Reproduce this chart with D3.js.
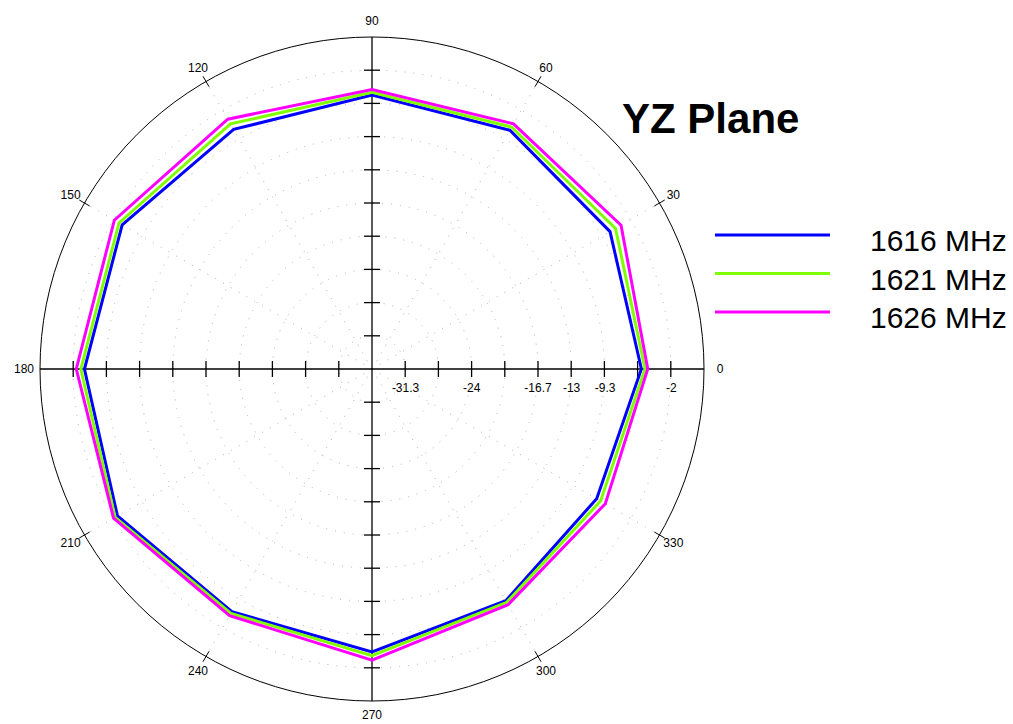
<!DOCTYPE html>
<html lang="en">
<head>
<meta charset="UTF-8">
<title>YZ Plane</title>
<script src="https://d3js.org/d3.v7.min.js"></script>
<style>
  body { margin: 0; background: #fff; }
  text { font-family: "Liberation Sans", Arial, sans-serif; }
</style>
</head>
<body>
<div id="chart"></div>
<script>
  const width = 1013, height = 724;
  const cx = 372, cy = 369, R = 332;

  // angles (deg, counter-clockwise from 0 = east)
  const angles = [0, 30, 60, 90, 120, 150, 180, 210, 240, 270, 300, 330];
  // gain in dB
  const s1616 = [-5.3, -4.7, -4.6, -4.8, -4.5, -3.2, -3.3, -2.6, -4.1, -3.8, -5.5, -6.4];
  const s1621 = [-4.9, -4.0, -4.2, -4.5, -3.8, -2.8, -2.9, -2.3, -3.9, -3.4, -5.3, -5.9];
  const s1626 = [-4.6, -3.3, -3.8, -4.2, -3.2, -2.2, -2.4, -2.1, -3.6, -2.9, -5.0, -5.3];
  const seriesNames = ["1616 MHz", "1621 MHz", "1626 MHz"];
  const seriesColors = ["#0000ff", "#80ff00", "#ff00ff"];
  const radialDomain = [-35, 1.6];
  const radialLabels = ["-31.3", "-24", "-16.7", "-13", "-9.3", "-2"];
  const angleLabels = [0, 30, 60, 90, 120, 150, 180, 210, 240, 270, 300, 330];

  const svg = d3.select("#chart").append("svg")
    .attr("width", width).attr("height", height);

  const g = svg.append("g").attr("transform", `translate(${cx},${cy})`);

  const r = d3.scaleLinear().domain(radialDomain).range([0, R]);
  const rTicks = d3.range(11).map(i => radialDomain[0] + i * (radialDomain[1] - radialDomain[0]) / 10);
  const rad = d => d * Math.PI / 180;

  // dotted grid rings
  g.selectAll("circle.grid")
    .data(rTicks.slice(1, 10))
    .join("circle")
      .attr("class", "grid")
      .attr("r", d => r(d))
      .attr("fill", "none")
      .attr("stroke", "#b0b0b0")
      .attr("stroke-width", 1)
      .attr("stroke-dasharray", "1,8");

  // dotted spokes
  g.selectAll("line.spoke")
    .data(angleLabels.filter(a => a % 90 != 0))
    .join("line")
      .attr("class", "spoke")
      .attr("x1", 0).attr("y1", 0)
      .attr("x2", a => R * Math.cos(rad(a)))
      .attr("y2", a => -R * Math.sin(rad(a)))
      .attr("stroke", "#b0b0b0")
      .attr("stroke-dasharray", "1,8");

  // outer circle
  g.append("circle")
    .attr("r", R)
    .attr("fill", "none")
    .attr("stroke", "#000")
    .attr("stroke-width", 1);

  // axes
  g.append("line").attr("x1", -R).attr("x2", R).attr("y1", 0).attr("y2", 0)
    .attr("stroke", "#000").attr("stroke-width", 1.3);
  g.append("line").attr("y1", -R).attr("y2", R).attr("x1", 0).attr("x2", 0)
    .attr("stroke", "#000").attr("stroke-width", 1.3);

  // axis ticks
  const tickR = rTicks.slice(1, 10).map(d => r(d));
  const tickPos = tickR.concat(tickR.map(d => -d));
  g.selectAll("line.xtick")
    .data(tickPos)
    .join("line")
      .attr("class", "xtick")
      .attr("x1", d => d).attr("x2", d => d)
      .attr("y1", -8).attr("y2", 8)
      .attr("stroke", "#000").attr("stroke-width", 1.3);
  g.selectAll("line.ytick")
    .data(tickPos)
    .join("line")
      .attr("class", "ytick")
      .attr("y1", d => d).attr("y2", d => d)
      .attr("x1", -8).attr("x2", 8)
      .attr("stroke", "#000").attr("stroke-width", 1.3);

  // radial labels
  g.selectAll("text.rlabel")
    .data(radialLabels)
    .join("text")
      .attr("class", "rlabel")
      .attr("x", d => r(+d))
      .attr("y", 23)
      .attr("text-anchor", "middle")
      .style("font-size", "12px")
      .text(d => d);

  // angle ticks and labels on the rim
  g.selectAll("line.atick")
    .data(angleLabels.filter(a => a % 90 != 0))
    .join("line")
      .attr("class", "atick")
      .attr("x1", a => (R - 6) * Math.cos(rad(a)))
      .attr("y1", a => -(R - 6) * Math.sin(rad(a)))
      .attr("x2", a => (R + 6) * Math.cos(rad(a)))
      .attr("y2", a => -(R + 6) * Math.sin(rad(a)))
      .attr("stroke", "#000");
  g.selectAll("text.alabel")
    .data(angleLabels)
    .join("text")
      .attr("class", "alabel")
      .attr("x", a => 348 * Math.cos(rad(a)))
      .attr("y", a => -348 * Math.sin(rad(a)) - (a == 270 ? 2 : 0))
      .attr("dy", "0.35em")
      .attr("text-anchor", "middle")
      .style("font-size", "12px")
      .text(a => a);

  // pattern lines
  const line = d3.lineRadial()
    .angle(d => Math.PI / 2 - rad(d[0]))
    .radius(d => r(d[1]))
    .curve(d3.curveLinearClosed);

  [s1616, s1621, s1626].forEach((s, i) => {
    g.append("path")
      .datum(angles.map((a, j) => [a, s[j]]))
      .attr("d", line)
      .attr("fill", "none")
      .attr("stroke", seriesColors[i])
      .attr("stroke-width", 3)
      .attr("stroke-linejoin", "miter");
  });

  // title
  svg.append("text")
    .attr("x", 622).attr("y", 133)
    .style("font-size", "42px")
    .style("font-weight", "bold")
    .text("YZ Plane");

  // legend
  const legend = svg.append("g");
  seriesNames.forEach((name, i) => {
    const y = 235 + i * 38.5;
    legend.append("line")
      .attr("x1", 715).attr("x2", 830)
      .attr("y1", y).attr("y2", y)
      .attr("stroke", seriesColors[i])
      .attr("stroke-width", 3);
    legend.append("text")
      .attr("x", 870).attr("y", y + 16)
      .style("font-size", "30px")
      .text(name);
  });
</script>
</body>
</html>
